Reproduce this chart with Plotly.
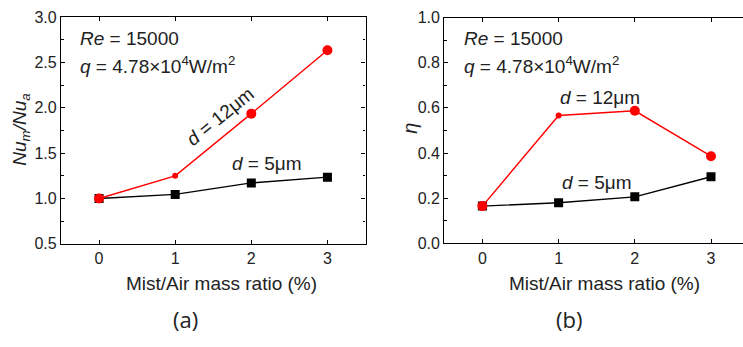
import plotly.graph_objects as go

# ---- data ----
ratio = [0, 1, 2, 3]
nu_5um = [1.0, 1.045, 1.172, 1.235]
nu_12um = [1.0, 1.25, 1.935, 2.633]
eta_5um = [0.165, 0.18, 0.206, 0.295]
eta_12um = [0.165, 0.566, 0.587, 0.386]
red_sizes = [10, 6, 10, 10]

W, H = 743, 347
def px(x):
    return x / W
def py(y):
    return 1 - y / H

FONT = "Arial"
fig = go.Figure()

def add_series(xs, ys, color, symbol, size, xa, ya):
    fig.add_trace(go.Scatter(x=xs, y=ys, mode="lines+markers",
                             line=dict(color=color, width=1.4),
                             marker=dict(symbol=symbol, size=size, color=color,
                                         opacity=1, line=dict(width=0)),
                             opacity=1, xaxis=xa, yaxis=ya, showlegend=False,
                             hoverinfo="skip"))

add_series(ratio, nu_5um, "black", "square", 9, "x", "y")
add_series(ratio, nu_12um, "#ff0000", "circle", red_sizes, "x", "y")
add_series(ratio, eta_5um, "black", "square", 9, "x2", "y2")
add_series(ratio, eta_12um, "#ff0000", "circle", red_sizes, "x2", "y2")

axis_common = dict(showline=True, linecolor="black", linewidth=1.3,
                   ticks="inside", ticklen=4, tickwidth=1.2, tickcolor="black",
                   showgrid=False, zeroline=False,
                   tickfont=dict(family=FONT, size=16, color="#222"))

fig.update_layout(
    width=W, height=H, margin=dict(l=0, r=0, t=0, b=0),
    paper_bgcolor="white", plot_bgcolor="white",
    xaxis=dict(domain=[px(61), px(365.5)], range=[-0.5, 3.5], tickvals=[0, 1, 2, 3],
               mirror="ticks", anchor="y", **axis_common),
    yaxis=dict(domain=[py(248), py(9.5)], range=[0.5, 3.0], dtick=0.5, tickformat=".1f",
               mirror="ticks", anchor="x",
               minor=dict(ticks="inside", dtick=0.25, ticklen=2.5, tickcolor="black"),
               **axis_common),
    xaxis2=dict(domain=[px(444.3), 1.0], range=[-0.5, 3.42], tickvals=[0, 1, 2, 3],
                mirror="ticks", anchor="y2", **axis_common),
    yaxis2=dict(domain=[py(247.5), py(10)], range=[0, 1.0], dtick=0.2, tickformat=".1f",
                mirror=False, anchor="x2",
                minor=dict(ticks="inside", dtick=0.1, ticklen=2.5, tickcolor="black"),
                **axis_common),
)

def ann(x, y, text, size=19, angle=0, xanchor="center", family=FONT, color="#222"):
    fig.add_annotation(x=px(x), y=py(y), xref="paper", yref="paper", text=text,
                       showarrow=False, xanchor=xanchor, yanchor="middle",
                       textangle=angle, font=dict(family=family, size=size, color=color))

q_text = "<i>q</i> = 4.78×10<sup>4</sup>W/m<sup>2</sup>"
# panel (a) texts
ann(78, 32, "<i>Re</i> = 15000", xanchor="left")
ann(78, 60, q_text, xanchor="left")
ann(220, 114, "<i>d</i> = 12μm", angle=-39)
ann(267, 164, "<i>d</i> = 5μm")
ann(21, 128, "<i>Nu</i><sub><i>m</i></sub><i>/Nu</i><sub><i>a</i></sub>", angle=-90)
ann(221, 290, "Mist/Air mass ratio (%)", size=19)
ann(185, 327, "(a)", size=22, family="Open Sans")

# panel (b) texts
ann(462, 32, "<i>Re</i> = 15000", xanchor="left")
ann(462, 60, q_text, xanchor="left")
ann(600, 94, "<i>d</i> = 12μm")
ann(597, 183, "<i>d</i> = 5μm")
ann(410, 127, "<i>η</i>", angle=-90, size=20)
ann(604, 290, "Mist/Air mass ratio (%)", size=19)
ann(569, 327, "(b)", size=22, family="Open Sans")

fig.write_html("out.html")
